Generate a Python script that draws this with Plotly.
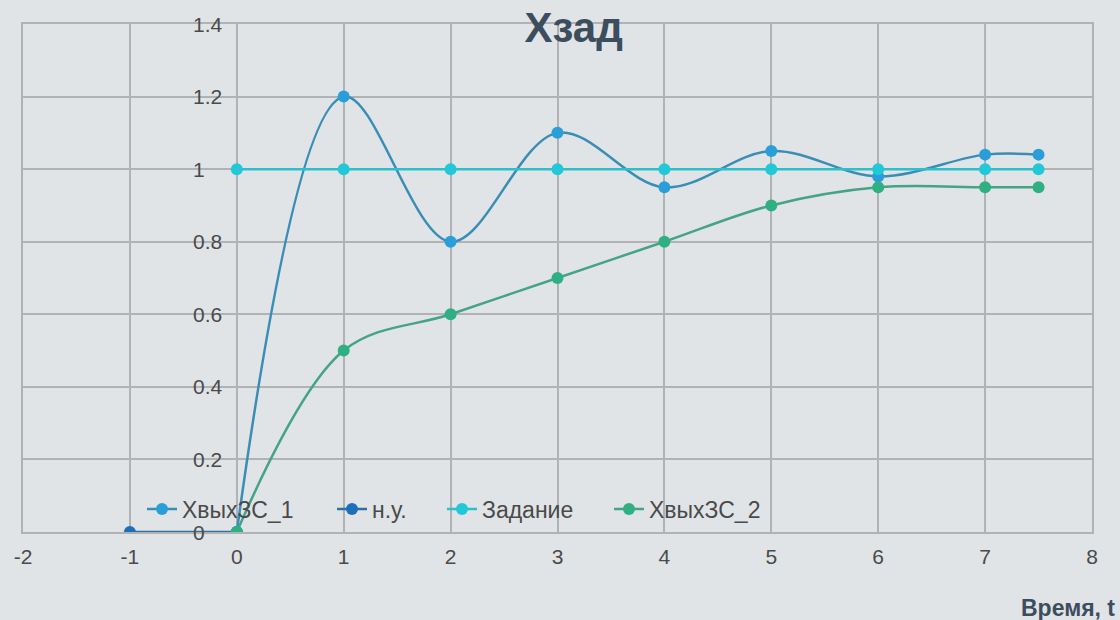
import plotly.graph_objects as go

t_main = [0, 1, 2, 3, 4, 5, 6, 7, 7.5]
x_out1 = [0, 1.2, 0.8, 1.1, 0.95, 1.05, 0.98, 1.04, 1.04]
t_init = [-1, 0]
y_init = [0, 0]
t_set = [0, 1, 2, 3, 4, 5, 6, 7, 7.5]
y_set = [1, 1, 1, 1, 1, 1, 1, 1, 1]
x_out2 = [0, 0.5, 0.6, 0.7, 0.8, 0.9, 0.95, 0.95, 0.95]

x_ticks = [-2, -1, 0, 1, 2, 3, 4, 5, 6, 7, 8]
x_tick_text = ["-2", "-1", "0", "1", "2", "3", "4", "5", "6", "7", "8"]
y_ticks = [0, 0.2, 0.4, 0.6, 0.8, 1, 1.2, 1.4]
y_tick_text = ["0", "0.2", "0.4", "0.6", "0.8", "1", "1.2", "1.4"]

names = ["ХвыхЗС_1", "н.у.", "Задание", "ХвыхЗС_2"]
marker_colors = ["#2a9ed8", "#1e6fb8", "#22c8d8", "#2eb083"]
line_colors = ["#3a8eb5", "#2f6fa8", "#2cc0cc", "#45a386"]
legend_ids = ["legend", "legend2", "legend3", "legend4"]
legend_px = [142, 332, 442, 609]   # left edge of each legend entry, in pixels

FONT = "Liberation Sans, Arial, sans-serif"
TXT = "#4a4a4a"
L, R, T, B = 23, 28, 24, 88
W, H = 1120, 620
PW, PH = W - L - R, H - T - B

fig = go.Figure()
series = [(t_main, x_out1), (t_init, y_init), (t_set, y_set), (t_main, x_out2)]
for (xs, ys), nm, mc, lc, lg in zip(series, names, marker_colors, line_colors, legend_ids):
    fig.add_trace(go.Scatter(
        x=xs, y=ys, name=nm, mode="lines+markers", legend=lg,
        line=dict(color=lc, width=2.5, shape="spline", smoothing=1.0),
        marker=dict(color=mc, size=12, line=dict(width=0)),
    ))

grid_col = "#b0b2b4"
annotations = []
for v, s in zip(y_ticks, y_tick_text):
    annotations.append(dict(text=s, x=0, xref="x", y=v, yref="y", xanchor="left",
                            yanchor="middle", xshift=-46, showarrow=False,
                            font=dict(family=FONT, size=21, color=TXT)))
annotations.append(dict(text="<b>Время, t</b>", x=(1117 - L) / PW, xref="paper",
                        y=(H - B - 608) / PH, yref="paper",
                        xanchor="right", yanchor="middle", showarrow=False,
                        font=dict(family=FONT, size=23, color="#3c4d5e")))

legend_layout = {}
for lg, px in zip(legend_ids, legend_px):
    legend_layout[lg] = dict(orientation="h", x=(px - L) / PW, y=(H - B - 509) / PH,
                             xanchor="left", yanchor="middle", bgcolor="rgba(0,0,0,0)",
                             font=dict(family=FONT, size=23, color=TXT), itemwidth=30)

fig.update_layout(
    width=W, height=H,
    paper_bgcolor="#e1e4e7", plot_bgcolor="#e1e4e7",
    margin=dict(l=L, r=R, t=T, b=B),
    font=dict(family=FONT, color=TXT, size=21),
    title=dict(text="<b>Xзад</b>", x=577 / W, xanchor="center", xref="paper",
               y=1 - 27 / H, yanchor="middle",
               font=dict(family=FONT, size=42, color="#3c4d5e")),
    xaxis=dict(range=[-2, 8], tickvals=x_ticks, ticktext=x_tick_text, showgrid=True,
               gridcolor=grid_col, gridwidth=2, zeroline=False,
               showline=True, mirror=True, linecolor=grid_col, linewidth=2,
               ticks="", tickfont=dict(family=FONT, size=21, color=TXT), ticklabelstandoff=5),
    yaxis=dict(range=[0, 1.4], tickvals=y_ticks, showgrid=True, gridcolor=grid_col, gridwidth=2,
               zeroline=False, showticklabels=False,
               showline=True, mirror=True, linecolor=grid_col, linewidth=2),
    showlegend=True,
    annotations=annotations,
    **legend_layout,
)
fig.write_html("out.html", config={"displayModeBar": False},
               post_script="document.body.style.margin='0';document.body.style.background='#e1e4e7';")
